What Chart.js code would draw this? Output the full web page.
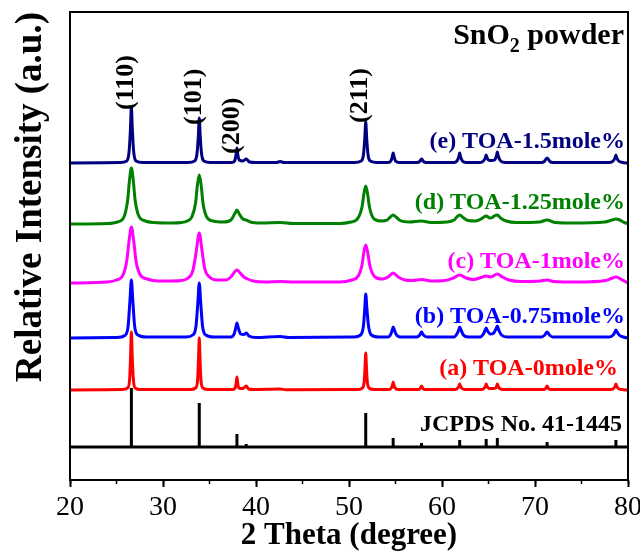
<!DOCTYPE html>
<html>
<head>
<meta charset="utf-8">
<script src="https://cdn.jsdelivr.net/npm/chart.js@4.4.0/dist/chart.umd.min.js"></script>
<style>
  html, body { margin: 0; padding: 0; background: #fff; }
  #wrap { width: 640px; height: 554px; }
</style>
</head>
<body>
<div id="wrap"><canvas id="xrd"></canvas></div>
<script>
// ─── Data (2θ in degrees, intensity in a.u. above each pattern's baseline) ───
const sampleNames = ['(a) TOA-0mole%', '(b) TOA-0.75mole%', '(c) TOA-1mole%', '(d) TOA-1.25mole%', '(e) TOA-1.5mole%'];
const lineColors = ['#ff0000', '#0000ff', '#ff00ff', '#008000', '#000080'];
const stackOffsets = [90, 142, 197, 256, 317];

const curveA = [
  [20,0],[25.6,0.5],[26.2,2],[26.42,12],[26.52,36],[26.6,58],[26.68,36],[26.8,12],[27.0,2],[27.6,0.5],
  [33.0,0.5],[33.5,2],[33.72,10],[33.82,32],[33.9,52],[33.98,32],[34.08,10],[34.3,2],[34.9,0.5],
  [37.5,0.5],[37.75,2],[37.87,7],[37.95,13],[38.03,7],[38.15,2],[38.6,1.5],[38.95,4],[39.2,1],[39.8,0.5],
  [42.6,1],[43.2,0.3],
  [51.0,0.5],[51.45,2],[51.65,10],[51.73,24],[51.8,37],[51.87,24],[51.95,10],[52.15,2],[52.7,0.5],
  [54.3,0.5],[54.55,2],[54.68,5],[54.75,8],[54.83,5],[54.95,2],[55.3,0.5],
  [57.4,0.5],[57.65,1.5],[57.8,4],[57.95,1.5],[58.2,0.5],
  [61.4,0.5],[61.7,2],[61.82,4],[61.9,6],[61.98,4],[62.15,1.5],[62.5,0.5],
  [64.3,0.5],[64.55,2],[64.68,4],[64.75,6],[64.83,4],[65.05,1.5],[65.5,1.5],[65.78,2],[65.88,4],[65.95,6],[66.03,4],[66.2,1.5],[66.6,0.5],
  [70.9,0.5],[71.15,1.5],[71.3,4],[71.45,1.5],[71.7,0.5],
  [78.2,0.5],[78.5,2],[78.63,4],[78.7,6],[78.78,4],[78.95,1.5],[79.3,0.5],[80,0]
];

const curveB = [
  [20,0],[25,0.5],[25.9,2.5],[26.25,12],[26.45,38],[26.6,58],[26.75,38],[26.95,12],[27.3,3],[28.2,1],
  [32.5,1],[33.2,3],[33.55,12],[33.75,36],[33.9,55],[34.05,36],[34.25,12],[34.6,3],[35.5,1],
  [37.3,1],[37.65,4],[37.82,10],[37.95,15],[38.1,10],[38.35,4],[38.7,3.5],[38.95,5],[39.25,2],[40,0.5],
  [42.6,1.5],[43.5,0.5],
  [50.5,1],[51.25,3],[51.55,12],[51.7,30],[51.8,44],[51.92,30],[52.1,12],[52.4,3],[53.2,1],
  [54.2,1],[54.5,4],[54.65,8],[54.75,11],[54.88,8],[55.05,4],[55.5,1],
  [57.3,1],[57.6,3],[57.8,6],[58.0,3],[58.4,1],
  [61.3,1],[61.6,4],[61.8,8],[61.9,11],[62.05,8],[62.3,3],[62.8,1],
  [64.1,1],[64.45,4],[64.65,8],[64.75,10],[64.9,7],[65.2,4],[65.5,4.5],[65.8,9],[65.95,12],[66.1,8],[66.4,3],[67,1],
  [70.7,1],[71.05,3],[71.3,6],[71.55,3],[71.9,1],
  [78,1],[78.4,3],[78.6,6],[78.7,8],[78.82,6],[79.05,3],[79.5,1],[80,0]
];

const curveC = [
  [20,0],[24,1],[25,3],[25.7,8],[26.1,22],[26.35,42],[26.6,56],[26.85,42],[27.1,22],[27.5,9],[28.3,4],[29.5,2],[31,2],
  [32,2.5],[32.7,5],[33.2,12],[33.55,30],[33.9,50],[34.2,32],[34.5,14],[35,6],[35.8,3],[36.7,3],
  [37.3,6],[37.7,11],[37.95,13],[38.3,10],[38.7,6],[39.1,4],[39.7,2],[41,1],
  [42.6,1.5],[44,1],[49,1],
  [50.3,3],[51,7],[51.4,18],[51.6,31],[51.8,38],[52.0,31],[52.25,17],[52.8,6],[53.6,4],
  [54.2,6],[54.75,10],[55.3,6],[56,3],[56.8,2.5],
  [57.8,3.5],[58.8,2],[60.3,2.5],
  [61.2,5],[61.9,8],[62.6,5],[63.4,3.5],
  [64.2,5.5],[64.75,7],[65.25,6],[65.95,9],[66.5,6],[67.2,3],[68.5,1.5],
  [70.6,2],[71.3,3],[72,1.5],[74.5,1],
  [77.6,2.5],[78.2,4.5],[78.7,6],[79.2,4],[79.7,1.5],[80,0]
];

const curveD = [
  [20,0],[24,0.5],[25.1,2],[25.8,7],[26.2,24],[26.4,44],[26.6,56],[26.8,44],[27.0,24],[27.4,8],[28.1,3],[29,1.5],[31,1],
  [32,1.5],[32.6,3],[33.1,7],[33.5,21],[33.7,39],[33.9,49],[34.1,39],[34.3,21],[34.7,7],[35.4,3],[36.5,2],
  [37.3,4],[37.7,10],[37.95,14],[38.2,10],[38.6,5],[38.95,4],[39.4,2],[40.5,1],
  [42.6,1.5],[44,0.5],[49,0.5],
  [50.2,2],[50.9,5],[51.4,17],[51.6,30],[51.8,38],[52.0,30],[52.2,17],[52.7,5],[53.5,3],
  [54.1,4],[54.45,7],[54.75,9],[55.05,7],[55.5,3.5],[56.5,2],
  [57.8,3],[58.8,1.5],[60.5,2],
  [61.3,4],[61.6,7],[61.9,9],[62.2,7],[62.8,3.5],[63.6,3],
  [64.2,5],[64.5,7],[64.75,8],[65.15,6],[65.4,6.5],[65.7,8.5],[65.95,9],[66.3,6],[66.9,3],[68,1.5],
  [70.5,2],[71.3,4],[72.2,1.5],[74,1],
  [77.5,2],[78.3,4],[78.7,5],[79.1,4],[79.6,1.5],[80,0.5]
];

const curveE = [
  [20,0],[25.4,0.5],[26.1,2],[26.35,11],[26.5,34],[26.6,56],[26.7,34],[26.85,11],[27.1,2],[27.8,0.5],
  [32.7,0.5],[33.4,2],[33.65,9],[33.8,27],[33.9,45],[34.0,27],[34.15,9],[34.4,2],[35.1,0.5],
  [37.4,0.5],[37.7,2],[37.85,8],[37.95,15],[38.05,8],[38.2,3],[38.6,2],[38.95,4],[39.3,1],[40,0.5],
  [42.2,0.5],[42.6,1.5],[43,0.5],
  [50.6,0.5],[51.3,2],[51.55,8],[51.7,25],[51.8,41],[51.9,25],[52.05,8],[52.3,2],[53,0.5],
  [54.2,0.5],[54.5,2],[54.65,6],[54.75,10],[54.85,6],[55.0,2],[55.4,0.5],
  [57.3,0.5],[57.6,1.5],[57.8,4],[58.0,1.5],[58.3,0.5],
  [61.3,0.5],[61.6,2],[61.8,6],[61.9,10],[62.0,6],[62.2,2],[62.6,0.5],
  [64.1,0.5],[64.45,2],[64.65,5],[64.75,8],[64.85,5],[65.1,2.5],[65.35,2.5],[65.65,3],[65.85,7],[65.95,11],[66.05,7],[66.3,2],[66.8,0.5],
  [70.7,0.5],[71.0,1.5],[71.3,5],[71.6,1.5],[71.9,0.5],
  [78.0,0.5],[78.4,2],[78.6,5],[78.7,8],[78.8,5],[79.0,2],[79.4,0.5],[80,0]
];

// JCPDS No. 41-1445 reference lines
const refName = 'JCPDS No. 41-1445';
const refOffset = 33;
const refTheta = [26.6, 33.9, 37.95, 38.95, 42.6, 51.8, 54.75, 57.8, 61.9, 64.75, 65.95, 71.3, 78.7];
const refIntensity = [59, 44, 13, 3, 1, 34, 9, 4, 7, 8, 9, 5, 7];

// Miller indices marked above the top pattern
const hklLabels = ['(110)', '(101)', '(200)', '(211)'];
const hklTheta = [26.6, 33.9, 37.95, 51.8];

const xTicks = [20, 30, 40, 50, 60, 70, 80];

// ─── Datasets ────────────────────────────────────────────────────────────────
const curves = [curveA, curveB, curveC, curveD, curveE];
const datasets = curves.map((pts, i) => ({
  label: sampleNames[i],
  data: pts.map(([t, v]) => ({ x: t, y: stackOffsets[i] + v })),
  borderColor: lineColors[i],
  borderWidth: 3,
  pointRadius: 0,
  cubicInterpolationMode: 'monotone',
  fill: false,
}));

const stickData = [];
refTheta.forEach((t, i) => {
  stickData.push({ x: t, y: refOffset }, { x: t, y: refOffset + refIntensity[i] }, { x: t, y: null });
});
datasets.push({
  label: refName,
  data: stickData,
  borderColor: '#000',
  borderWidth: 3,
  pointRadius: 0,
  spanGaps: false,
});
datasets.push({
  label: 'ref baseline',
  data: [{ x: 20, y: refOffset }, { x: 80, y: refOffset }],
  borderColor: '#000',
  borderWidth: 3,
  pointRadius: 0,
});

// ─── Plugins ─────────────────────────────────────────────────────────────────
const frame = {
  id: 'frame',
  afterDraw(chart) {
    const { ctx, chartArea: a } = chart;
    ctx.save();
    ctx.strokeStyle = '#000';
    ctx.lineWidth = 2;
    ctx.strokeRect(a.left, a.top, a.right - a.left, a.bottom - a.top);
    ctx.restore();
  },
};

const textLabels = {
  id: 'textLabels',
  afterDraw(chart) {
    const { ctx, scales: { x, y } } = chart;
    ctx.save();
    ctx.textBaseline = 'middle';
    ctx.textAlign = 'right';
    ctx.font = 'bold 24px "Liberation Serif"';

    const labelRight = [618, 625, 625, 625, 625];
    sampleNames.forEach((name, i) => {
      ctx.fillStyle = lineColors[i];
      ctx.fillText(name, labelRight[i], y.getPixelForValue(stackOffsets[i]) - 21);
    });
    ctx.fillStyle = '#000';
    ctx.fillText(refName, 622, y.getPixelForValue(refOffset) - 22);

    // hkl, rotated
    const hklStart = [110, 125, 154, 123];
    ctx.font = 'bold 26px "Liberation Serif"';
    ctx.textAlign = 'left';
    hklLabels.forEach((lab, i) => {
      ctx.save();
      ctx.translate(x.getPixelForValue(hklTheta[i]) - 5, hklStart[i]);
      ctx.rotate(-Math.PI / 2);
      ctx.fillText(lab, 0, 0);
      ctx.restore();
    });

    // SnO2 powder
    ctx.textBaseline = 'alphabetic';
    ctx.font = 'bold 30px "Liberation Serif"';
    const w1 = ctx.measureText('SnO').width;
    const w3 = ctx.measureText(' powder').width;
    ctx.font = 'bold 20px "Liberation Serif"';
    const w2 = ctx.measureText('2').width;
    const right = 624;
    const x0 = right - w1 - w2 - w3;
    ctx.font = 'bold 30px "Liberation Serif"';
    ctx.fillText('SnO', x0, 44);
    ctx.fillText(' powder', x0 + w1 + w2, 44);
    ctx.font = 'bold 20px "Liberation Serif"';
    ctx.fillText('2', x0 + w1, 52);
    ctx.restore();
  },
};

// ─── Chart ───────────────────────────────────────────────────────────────────
new Chart(document.getElementById('xrd'), {
  type: 'line',
  data: { datasets },
  options: {
    responsive: true,
    maintainAspectRatio: false,
    animation: false,
    layout: { padding: { top: 12, right: 12, left: 0, bottom: 0 } },
    plugins: { legend: { display: false }, tooltip: { enabled: false } },
    scales: {
      x: {
        type: 'linear',
        min: 20, max: 80,
        afterBuildTicks: (s) => { s.ticks = xTicks.map(v => ({ value: v })); },
        afterFit: (s) => { s.height = 74; s.paddingLeft = 0; s.paddingRight = 0; },
        ticks: { color: '#000', font: { family: 'Liberation Serif', size: 28 }, padding: 4, maxRotation: 0 },
        grid: { drawOnChartArea: false, tickLength: 7, tickWidth: 2, tickColor: '#000' },
        border: { display: true, color: '#000', width: 2 },
        title: {
          display: true, text: '2 Theta (degree)', color: '#000',
          font: { family: 'Liberation Serif', size: 31, weight: 'bold' },
          padding: { top: 0, bottom: -1 },
        },
      },
      xm: {
        type: 'linear',
        position: { y: 0 },
        min: 20, max: 80,
        ticks: { display: false, stepSize: 5 },
        grid: { drawOnChartArea: false, tickLength: 4, tickWidth: 1.5, tickColor: '#000' },
        border: { display: false },
      },
      y: {
        min: 0, max: 468,
        afterFit: (s) => { s.width = 70; },
        ticks: { display: false },
        grid: { display: false },
        border: { display: true, color: '#000', width: 2 },
        title: {
          display: true, text: 'Relative Intensity (a.u.)', color: '#000', align: 'end',
          font: { family: 'Liberation Serif', size: 37, weight: 'bold' },
          padding: { top: 9, bottom: 0 },
        },
      },
    },
  },
  plugins: [frame, textLabels],
});
</script>
</body>
</html>
